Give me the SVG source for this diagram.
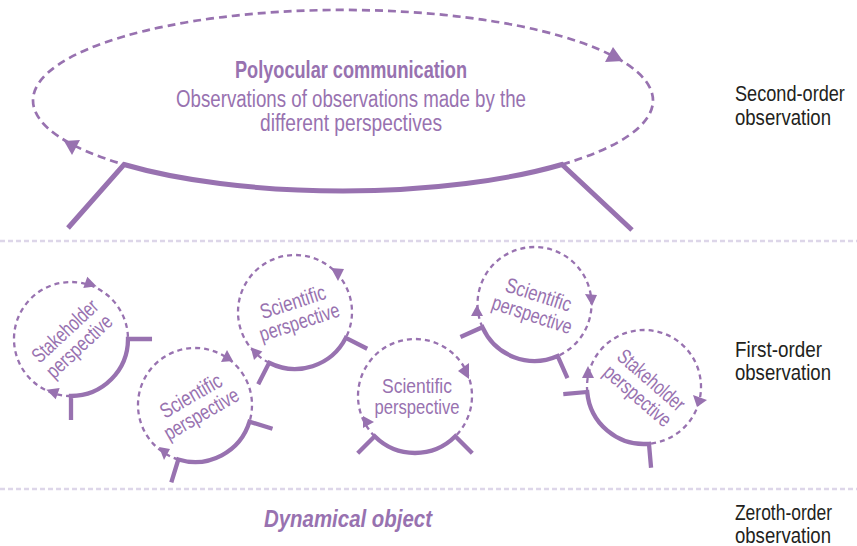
<svg xmlns="http://www.w3.org/2000/svg" xmlns:xlink="http://www.w3.org/1999/xlink" width="857" height="546" viewBox="0 0 857 546">
  <style>
    .sep { stroke:#ddd6e9; stroke-width:2.5; stroke-dasharray:5 3; fill:none }
    .dashE { fill:none; stroke:#9872b0; stroke-width:2.7; stroke-dasharray:8 5 }
    .dashC { fill:none; stroke:#9872b0; stroke-width:2.3; stroke-dasharray:5 4 }
    .solidE { fill:none; stroke:#9872b0; stroke-width:5 }
    .solidC { fill:none; stroke:#9872b0; stroke-width:4.3; stroke-linejoin:miter }
    .arrow { fill:#9872b0 }
    .ptext { fill:#9872b0; font-family:"Liberation Sans Narrow","Liberation Sans",Arial,sans-serif; font-size:21px; text-anchor:middle }
    .title { fill:#9872b0; font-family:"Liberation Sans Narrow","Liberation Sans",Arial,sans-serif; text-anchor:middle }
    .label { fill:#231f20; font-family:"Liberation Sans Narrow","Liberation Sans",Arial,sans-serif; font-size:22px }
  </style>
  <defs>
    <g id="ring">
      <path class="dashC" d="M -40.3 40.3 A 57 57 0 1 1 40.3 40.3"/>
      <path class="solidC" d="M 57.3 57.3 L 40.3 40.3 A 57 57 0 0 1 -40.3 40.3 L -57.3 57.3"/>
    </g>
  </defs>

  <g id="separators">
    <line class="sep" x1="0" y1="241" x2="857" y2="241"/>
    <line class="sep" x1="0" y1="489" x2="857" y2="489"/>
  </g>

  <g id="polyocular">
    <path class="dashE" d="M 562 164.5 A 310 90.5 0 1 0 124 164.5"/>
    <path class="solidE" d="M 68 228 L 124 164.5 A 310 90.5 0 0 0 562 164.5 L 632 230"/>
    <polygon class="arrow" points="64,141 80,140 72,155"/>
    <polygon class="arrow" points="613,47 605,62 623,61"/>
    <text class="title" x="351" y="78" font-size="24" font-weight="bold" textLength="232" lengthAdjust="spacingAndGlyphs">Polyocular communication</text>
    <text class="title" x="351" y="107" font-size="23" textLength="350" lengthAdjust="spacingAndGlyphs">Observations of observations made by the</text>
    <text class="title" x="351" y="131" font-size="23" textLength="182" lengthAdjust="spacingAndGlyphs">different perspectives</text>
  </g>

  <g id="stakeholder-left">
    <use xlink:href="#ring" href="#ring" transform="translate(71,339) rotate(-45)"/>
    <polygon class="arrow" points="96.6,286.3 83.3,288.1 87.3,276.7"/>
    <polygon class="arrow" points="46.4,389.7 59.7,387.9 55.7,399.3"/>
    <g transform="translate(71,339) rotate(-43)">
      <text class="ptext" x="1" y="-3" textLength="82" lengthAdjust="spacingAndGlyphs">Stakeholder</text>
      <text class="ptext" x="1" y="18" textLength="82" lengthAdjust="spacingAndGlyphs">perspective</text>
    </g>
  </g>

  <g id="scientific-1">
    <use xlink:href="#ring" href="#ring" transform="translate(195,405) rotate(-28)"/>
    <polygon class="arrow" points="227,350 221,362 233,361"/>
    <polygon class="arrow" points="164,460 159,447 170,449"/>
    <g transform="translate(195,405) rotate(-30)">
      <text class="ptext" x="1" y="-3" textLength="68" lengthAdjust="spacingAndGlyphs">Scientific</text>
      <text class="ptext" x="1" y="18" textLength="83" lengthAdjust="spacingAndGlyphs">perspective</text>
    </g>
  </g>

  <g id="scientific-2">
    <use xlink:href="#ring" href="#ring" transform="translate(295,312) rotate(-18)"/>
    <polygon class="arrow" points="331,268 344,269 338,281"/>
    <polygon class="arrow" points="250.7,347.3 262.4,351.5 254,360"/>
    <g transform="translate(295,312) rotate(-18)">
      <text class="ptext" x="1" y="-3" textLength="68" lengthAdjust="spacingAndGlyphs">Scientific</text>
      <text class="ptext" x="1" y="18" textLength="83" lengthAdjust="spacingAndGlyphs">perspective</text>
    </g>
  </g>

  <g id="scientific-3">
    <use xlink:href="#ring" href="#ring" transform="translate(415,396)"/>
    <polygon class="arrow" points="458,371 469,363 469,379"/>
    <polygon class="arrow" points="363,416 363,428 374,422"/>
    <g transform="translate(415,396)">
      <text class="ptext" x="2" y="-3" textLength="70" lengthAdjust="spacingAndGlyphs">Scientific</text>
      <text class="ptext" x="2" y="18" textLength="85" lengthAdjust="spacingAndGlyphs">perspective</text>
    </g>
  </g>

  <g id="scientific-4">
    <use xlink:href="#ring" href="#ring" transform="translate(534.5,304) rotate(21)"/>
    <polygon class="arrow" points="585,294 597,295 592,306"/>
    <polygon class="arrow" points="477,305 471,316 483,316"/>
    <g transform="translate(534.5,304) rotate(18)">
      <text class="ptext" x="1" y="-3" textLength="68" lengthAdjust="spacingAndGlyphs">Scientific</text>
      <text class="ptext" x="1" y="18" textLength="83" lengthAdjust="spacingAndGlyphs">perspective</text>
    </g>
  </g>

  <g id="stakeholder-right">
    <use xlink:href="#ring" href="#ring" transform="translate(644,387) rotate(40)"/>
    <polygon class="arrow" points="588,366 582,378 594,378"/>
    <polygon class="arrow" points="693,395 707,400 697,407"/>
    <g transform="translate(644,387) rotate(41)">
      <text class="ptext" x="1" y="-3" textLength="82" lengthAdjust="spacingAndGlyphs">Stakeholder</text>
      <text class="ptext" x="1" y="18" textLength="82" lengthAdjust="spacingAndGlyphs">perspective</text>
    </g>
  </g>

  <g id="dynamical-object">
    <text class="title" x="348" y="527" font-size="23" font-weight="bold" font-style="italic" textLength="168" lengthAdjust="spacingAndGlyphs">Dynamical object</text>
  </g>

  <g id="labels" transform="scale(0.82,1)">
    <text class="label" x="896.3" y="101" textLength="134.1" lengthAdjust="spacingAndGlyphs">Second-order</text>
    <text class="label" x="896.3" y="125" textLength="117.1" lengthAdjust="spacingAndGlyphs">observation</text>
    <text class="label" x="896.3" y="357" textLength="106.1" lengthAdjust="spacingAndGlyphs">First-order</text>
    <text class="label" x="896.3" y="380" textLength="117.1" lengthAdjust="spacingAndGlyphs">observation</text>
    <text class="label" x="896.3" y="520" font-size="21" textLength="118.3" lengthAdjust="spacingAndGlyphs">Zeroth-order</text>
    <text class="label" x="896.3" y="543" font-size="21" textLength="117.1" lengthAdjust="spacingAndGlyphs">observation</text>
  </g>
</svg>
